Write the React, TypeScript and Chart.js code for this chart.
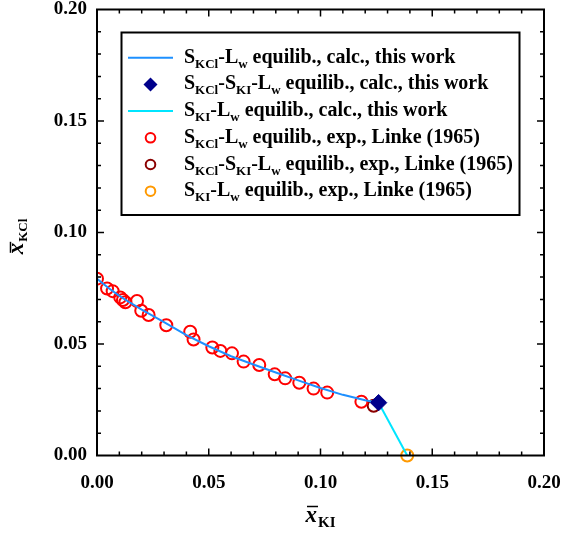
import React, { useEffect, useRef } from "react";
import { Chart, registerables } from "chart.js";

Chart.register(...registerables);

// ---------- data ----------
// S_KCl - L_w equilibrium, calculated (this work)
const kclCalcX = [0, 0.005, 0.01, 0.015, 0.02, 0.03, 0.04, 0.05, 0.06, 0.07, 0.08, 0.09, 0.1, 0.11, 0.12, 0.126];
const kclCalcY = [0.0793, 0.0752, 0.0716, 0.0684, 0.0654, 0.0598, 0.054, 0.049, 0.0445, 0.0408, 0.0372, 0.0337, 0.0303, 0.0272, 0.0248, 0.0237];
// S_KCl - S_KI - L_w equilibrium, calculated
const eutCalcX = [0.126];
const eutCalcY = [0.0237];
// S_KI - L_w equilibrium, calculated
const kiCalcX = [0.126, 0.1388];
const kiCalcY = [0.0237, 0];
// S_KCl - L_w equilibrium, experimental (Linke 1965)
const kclExpX = [0.0, 0.0045, 0.007, 0.0104, 0.0116, 0.0127, 0.0179, 0.0198, 0.0231, 0.031, 0.0417, 0.0432, 0.0516, 0.0552, 0.0604, 0.0656, 0.0726, 0.0795, 0.0842, 0.0905, 0.0969, 0.103, 0.1183];
const kclExpY = [0.0793, 0.0749, 0.0737, 0.0709, 0.0697, 0.0687, 0.0693, 0.0649, 0.063, 0.0584, 0.0555, 0.052, 0.0484, 0.0469, 0.0458, 0.0421, 0.0406, 0.0364, 0.0346, 0.0326, 0.03, 0.0282, 0.0241];
// S_KCl - S_KI - L_w equilibrium, experimental
const eutExpX = [0.1238];
const eutExpY = [0.0223];
// S_KI - L_w equilibrium, experimental
const kiExpX = [0.1388];
const kiExpY = [0];

const axisMin = 0;
const axisMax = 0.2;
const minorStep = 0.01;
const majorEvery = 5;

type Seg = [string, boolean];
const legendRows: { kind: string; color: string; segs: Seg[] }[] = [
  { kind: "line", color: "#1E90FF", segs: [["S", false], ["KCl", true], ["-L", false], ["w", true], [" equilib., calc., this work", false]] },
  { kind: "diamond", color: "#00008B", segs: [["S", false], ["KCl", true], ["-S", false], ["KI", true], ["-L", false], ["w", true], [" equilib., calc., this work", false]] },
  { kind: "line", color: "#00E5FF", segs: [["S", false], ["KI", true], ["-L", false], ["w", true], [" equilib., calc., this work", false]] },
  { kind: "circle", color: "#FF0000", segs: [["S", false], ["KCl", true], ["-L", false], ["w", true], [" equilib., exp., Linke (1965)", false]] },
  { kind: "circle", color: "#8B0000", segs: [["S", false], ["KCl", true], ["-S", false], ["KI", true], ["-L", false], ["w", true], [" equilib., exp., Linke (1965)", false]] },
  { kind: "circle", color: "#FF9900", segs: [["S", false], ["KI", true], ["-L", false], ["w", true], [" equilib., exp., Linke (1965)", false]] },
];

const FAM = "'Liberation Serif', 'Times New Roman', serif";

const pts = (xs: number[], ys: number[]) => xs.map((x, i) => ({ x, y: ys[i] }));

function drawRich(ctx: CanvasRenderingContext2D, segs: Seg[], x: number, y: number, main: number, sub: number, dy: number) {
  let cx = x;
  for (const [t, s] of segs) {
    ctx.font = `bold ${s ? sub : main}px ${FAM}`;
    ctx.fillText(t, cx, s ? y + dy : y);
    cx += ctx.measureText(t).width;
  }
}

const framePlugin = {
  id: "frameTicks",
  afterDraw(chart: any) {
    const ctx: CanvasRenderingContext2D = chart.ctx;
    const { left, right, top, bottom } = chart.chartArea;
    const xs = chart.scales.x;
    const ys = chart.scales.y;
    ctx.save();
    ctx.strokeStyle = "#000";
    // ticks
    ctx.lineWidth = 1.5;
    const n = Math.round((axisMax - axisMin) / minorStep);
    for (let i = 1; i < n; i++) {
      const v = axisMin + i * minorStep;
      const len = i % majorEvery === 0 ? 7 : 4;
      const px = xs.getPixelForValue(v);
      const py = ys.getPixelForValue(v);
      ctx.beginPath();
      ctx.moveTo(px, bottom);
      ctx.lineTo(px, bottom - len);
      ctx.moveTo(px, top);
      ctx.lineTo(px, top + len);
      ctx.moveTo(left, py);
      ctx.lineTo(left + len, py);
      ctx.moveTo(right, py);
      ctx.lineTo(right - len, py);
      ctx.stroke();
    }
    // frame
    ctx.lineWidth = 2;
    ctx.strokeRect(left, top, right - left, bottom - top);

    // axis titles
    ctx.fillStyle = "#000";
    ctx.textBaseline = "alphabetic";
    // x title
    ctx.font = `italic bold 23px ${FAM}`;
    const wx = ctx.measureText("x").width;
    ctx.font = `bold 15px ${FAM}`;
    const wsub = ctx.measureText("KI").width;
    const cxT = (left + right) / 2;
    const sx = cxT - (wx + wsub + 1) / 2;
    const by = 522;
    ctx.font = `italic bold 23px ${FAM}`;
    ctx.textAlign = "left";
    ctx.fillText("x", sx, by);
    ctx.lineWidth = 1.5;
    ctx.beginPath();
    ctx.moveTo(sx + 1.5, by - 15.5);
    ctx.lineTo(sx + wx + 1, by - 15.5);
    ctx.stroke();
    ctx.font = `bold 15px ${FAM}`;
    ctx.fillText("KI", sx + wx + 1, by + 5);

    // y title (rotated)
    ctx.save();
    ctx.rotate(-Math.PI / 2);
    ctx.font = `italic bold 23px ${FAM}`;
    const wy = ctx.measureText("x").width;
    ctx.font = `bold 13px ${FAM}`;
    const wsy = ctx.measureText("KCl").width;
    const cyT = (top + bottom) / 2 + 4;
    const u0 = -cyT - (wy + wsy + 1) / 2;
    const bv = 22.5;
    ctx.font = `italic bold 23px ${FAM}`;
    ctx.fillText("x", u0, bv);
    ctx.beginPath();
    ctx.moveTo(u0 + 1.5, bv - 12);
    ctx.lineTo(u0 + wy + 1, bv - 12);
    ctx.stroke();
    ctx.font = `bold 13px ${FAM}`;
    ctx.fillText("KCl", u0 + wy + 1, bv + 4);
    ctx.restore();

    // legend
    const lx0 = 121.5, ly0 = 32.5, lx1 = 519.5, ly1 = 215;
    ctx.fillStyle = "#fff";
    ctx.fillRect(lx0, ly0, lx1 - lx0, ly1 - ly0);
    ctx.strokeStyle = "#000";
    ctx.lineWidth = 2;
    ctx.strokeRect(lx0, ly0, lx1 - lx0, ly1 - ly0);
    const rowH = 26.7;
    legendRows.forEach((r, i) => {
      const my = 57.7 + i * rowH;
      const mx = 150.5;
      ctx.save();
      if (r.kind === "line") {
        ctx.strokeStyle = r.color;
        ctx.lineWidth = 2;
        ctx.beginPath();
        ctx.moveTo(128, my);
        ctx.lineTo(173, my);
        ctx.stroke();
      } else if (r.kind === "diamond") {
        ctx.fillStyle = r.color;
        const d = 7;
        ctx.beginPath();
        ctx.moveTo(mx, my - d);
        ctx.lineTo(mx + d, my);
        ctx.lineTo(mx, my + d);
        ctx.lineTo(mx - d, my);
        ctx.closePath();
        ctx.fill();
      } else {
        ctx.strokeStyle = r.color;
        ctx.lineWidth = 2;
        ctx.beginPath();
        ctx.arc(mx, my, 4.8, 0, Math.PI * 2);
        ctx.stroke();
      }
      ctx.restore();
      ctx.fillStyle = "#000";
      drawRich(ctx, r.segs, 184, my + 5, 20, 13, 5);
    });
    ctx.restore();
  },
};

const zeroPad = (s: any) => {
  s.paddingTop = 0;
  s.paddingBottom = 0;
  s.paddingLeft = 0;
  s.paddingRight = 0;
};

export default function App() {
  const ref = useRef<HTMLCanvasElement | null>(null);
  useEffect(() => {
    document.body.style.margin = "0";
    if (!ref.current) return;
    const tickFont = { family: FAM, size: 19, weight: "bold" as const };
    const tickCb = (v: any) => {
      const k = Math.round(Number(v) / minorStep);
      return k % majorEvery === 0 ? (k * minorStep).toFixed(2) : "";
    };
    const chart = new Chart(ref.current, {
      type: "scatter",
      data: {
        datasets: [
          {
            label: "eutCalc",
            data: pts(eutCalcX, eutCalcY),
            pointStyle: "rectRot",
            pointRadius: 8.2,
            backgroundColor: "#00008B",
            borderColor: "#00008B",
            borderWidth: 1,
            order: 0,
          },
          {
            label: "kclCalc",
            data: pts(kclCalcX, kclCalcY),
            showLine: true,
            borderColor: "#1E90FF",
            borderWidth: 2,
            pointRadius: 0,
            order: 1,
          },
          {
            label: "kiCalc",
            data: pts(kiCalcX, kiCalcY),
            showLine: true,
            borderColor: "#00E5FF",
            borderWidth: 2,
            pointRadius: 0,
            clip: false,
            order: 1,
          },
          {
            label: "kclExp",
            data: pts(kclExpX, kclExpY),
            pointStyle: "circle",
            pointRadius: 6,
            borderWidth: 2,
            borderColor: "#FF0000",
            backgroundColor: "rgba(255,255,255,0)",
            order: 2,
          },
          {
            label: "eutExp",
            data: pts(eutExpX, eutExpY),
            pointStyle: "circle",
            pointRadius: 6,
            borderWidth: 2,
            borderColor: "#8B0000",
            backgroundColor: "rgba(255,255,255,0)",
            order: 2,
          },
          {
            label: "kiExp",
            data: pts(kiExpX, kiExpY),
            pointStyle: "circle",
            pointRadius: 6,
            borderWidth: 2,
            borderColor: "#FF9900",
            backgroundColor: "rgba(255,255,255,0)",
            clip: false,
            order: 2,
          },
        ],
      },
      options: {
        animation: false,
        responsive: true,
        maintainAspectRatio: false,
        layout: { padding: { top: 9.5, right: 17, bottom: 0, left: 0 } },
        plugins: { legend: { display: false }, tooltip: { enabled: false } },
        scales: {
          x: {
            type: "linear",
            min: axisMin,
            max: axisMax,
            grid: { display: false, drawTicks: false },
            border: { display: false },
            afterFit: (s: any) => {
              s.height = 79.5;
              zeroPad(s);
            },
            ticks: {
              stepSize: minorStep,
              autoSkip: false,
              maxRotation: 0,
              includeBounds: true,
              padding: 16,
              color: "#000",
              font: tickFont,
              callback: tickCb,
            },
          },
          y: {
            type: "linear",
            min: axisMin,
            max: axisMax,
            grid: { display: false, drawTicks: false },
            border: { display: false },
            afterFit: (s: any) => {
              s.width = 97;
              zeroPad(s);
            },
            ticks: {
              stepSize: minorStep,
              autoSkip: false,
              padding: 10,
              color: "#000",
              font: tickFont,
              callback: tickCb,
            },
          },
        },
      },
      plugins: [framePlugin],
    });
    return () => chart.destroy();
  }, []);
  return (
    <div style={{ position: "absolute", left: 0, top: 0, width: 561, height: 535 }}>
      <canvas ref={ref} />
    </div>
  );
}
